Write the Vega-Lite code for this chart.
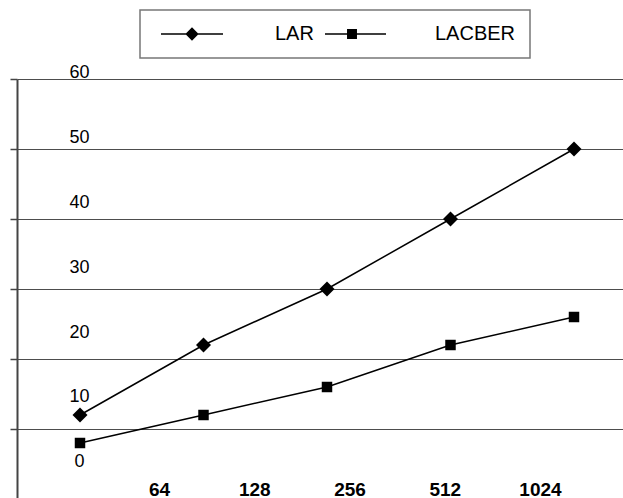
{
  "$schema": "https://vega.github.io/schema/vega-lite/v6.json",
  "width": 606,
  "height": 420,
  "autosize": "none",
  "padding": {"left": 17, "top": 79, "right": 0, "bottom": 0},
  "background": "white",
  "config": {
    "view": {"stroke": null},
    "font": "Liberation Sans",
    "axis": {"labelFont": "Liberation Sans", "labelColor": "black"},
    "legend": {"labelFont": "Liberation Sans", "labelColor": "black", "strokeWidth": 1.5}
  },
  "data": {
    "values": [
      {"size": "64", "series": "LAR", "value": 12},
      {"size": "128", "series": "LAR", "value": 22},
      {"size": "256", "series": "LAR", "value": 30},
      {"size": "512", "series": "LAR", "value": 40},
      {"size": "1024", "series": "LAR", "value": 50},
      {"size": "64", "series": "LACBER", "value": 8},
      {"size": "128", "series": "LACBER", "value": 12},
      {"size": "256", "series": "LACBER", "value": 16},
      {"size": "512", "series": "LACBER", "value": 22},
      {"size": "1024", "series": "LACBER", "value": 26}
    ]
  },
  "layer": [
    {
      "mark": {"type": "point", "opacity": 0},
      "encoding": {
        "x": {"field": "size", "type": "ordinal", "sort": ["64", "128", "256", "512", "1024"], "scale": {"type": "point", "padding": 0}, "axis": null},
        "y": {"field": "value", "type": "quantitative", "scale": {"domain": [0, 60], "range": [420, 0], "nice": false, "zero": false},
          "axis": {"orient": "left", "values": [0, 10, 20, 30, 40, 50, 60], "grid": true, "gridColor": "#4d4d4d", "gridOpacity": 1, "gridWidth": 1, "labels": false, "ticks": true, "tickSize": 7, "tickColor": "#444", "tickWidth": 1.5, "domain": true, "domainColor": "#444", "domainWidth": 2, "title": null}}
      }
    },
    {
      "mark": {"type": "line", "color": "black", "strokeWidth": 1.5},
      "encoding": {
        "x": {"field": "size", "type": "ordinal", "sort": ["64", "128", "256", "512", "1024"], "scale": {"type": "point", "range": [63, 557], "padding": 0}, "axis": null},
        "y": {"field": "value", "type": "quantitative", "scale": {"domain": [0, 60], "range": [420, 0], "nice": false, "zero": false}, "axis": null},
        "detail": {"field": "series", "type": "nominal"}
      }
    },
    {
      "mark": {"type": "point", "filled": true, "color": "black", "opacity": 1},
      "encoding": {
        "x": {"field": "size", "type": "ordinal", "sort": ["64", "128", "256", "512", "1024"], "scale": {"type": "point", "range": [63, 557], "padding": 0}, "axis": null},
        "y": {"field": "value", "type": "quantitative", "scale": {"domain": [0, 60], "range": [420, 0], "nice": false, "zero": false}, "axis": null},
        "shape": {"field": "series", "type": "nominal", "scale": {"domain": ["LAR", "LACBER"], "range": ["diamond", "square"]}, "legend": null},
        "size": {"field": "series", "type": "nominal", "scale": {"domain": ["LAR", "LACBER"], "range": [225, 110]}, "legend": null}
      }
    },
    {
      "mark": {"type": "point", "filled": true, "color": "black", "opacity": 0},
      "encoding": {
        "x": {"field": "size", "type": "ordinal", "sort": ["64", "128", "256", "512", "1024"], "scale": {"type": "point", "range": [142, 523], "padding": 0},
          "axis": {"orient": "bottom", "title": null, "domain": false, "ticks": false, "tickSize": 0, "grid": false, "labelFontWeight": "bold", "labelFontSize": 19, "labelBaseline": "middle", "labelPadding": -10, "labelAngle": 0}},
        "y": {"field": "value", "type": "quantitative", "scale": {"domain": [0, 60], "range": [382.7, -6.3], "nice": false, "zero": false},
          "axis": {"orient": "left", "values": [0, 10, 20, 30, 40, 50, 60], "grid": false, "ticks": false, "tickSize": 0, "domain": false, "labelAlign": "center", "labelBaseline": "middle", "labelPadding": -62, "labelFontSize": 18, "labelFlush": false, "labelOverlap": false, "title": null}},
        "shape": {"field": "series", "type": "nominal",
          "scale": {"domain": ["LAR", "LACBER"], "range": ["M-0.43,-0.12L8.43,-0.12L8.43,0.12L-0.43,0.12ZM4,-0.95L4.95,0L4,0.95L3.05,0Z", "M0.14,-0.12L8.86,-0.12L8.86,0.12L0.14,0.12ZM3.29,-0.71L4.71,-0.71L4.71,0.71L3.29,0.71Z"]},
          "legend": {"orient": "none", "legendX": 123, "legendY": -69, "direction": "horizontal", "title": null, "symbolSize": 196, "symbolFillColor": "black", "symbolStrokeColor": "black", "symbolStrokeWidth": 0, "symbolOpacity": 1, "labelFontSize": 20, "labelOffset": 101, "columnPadding": 0, "padding": 14, "strokeColor": "#777", "fillColor": "white",
            "encode": {
              "symbols": {"fill": {"value": "black"}, "opacity": {"value": 1}},
              "labels": {"dx": {"value": {"expr": "datum.label === 'LACBER' ? -31 : 0"}}}
            }}}
      }
    }
  ],
  "resolve": {"scale": {"x": "independent", "y": "independent", "shape": "independent", "size": "independent"}}
}
